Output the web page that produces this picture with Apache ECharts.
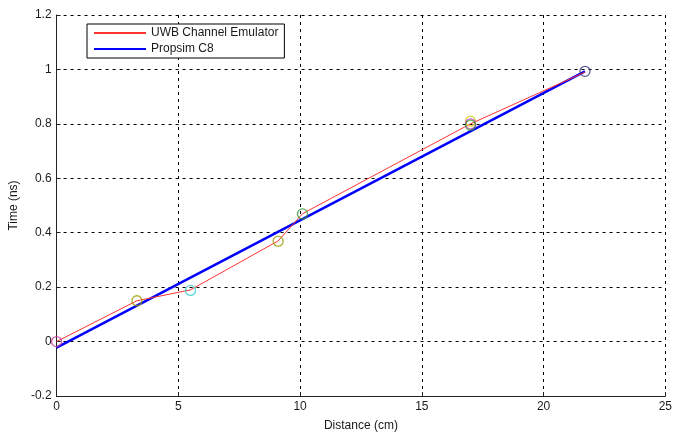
<!DOCTYPE html>
<html><head><meta charset="utf-8">
<script src="https://cdn.jsdelivr.net/npm/echarts@6/dist/echarts.min.js"></script>
<style>html,body{margin:0;padding:0;background:#fff}#c{width:675px;height:437px}</style>
</head><body><div id="c"></div>
<script>
const xTicks = [0, 5, 10, 15, 20, 25];
const yTicks = [-0.2, 0, 0.2, 0.4, 0.6, 0.8, 1, 1.2];
const uwbX = [0, 3.3, 5.5, 9.1, 10.1, 17.0, 21.7];
const uwbY = [0, 0.15, 0.19, 0.37, 0.47, 0.80, 0.99];
const propX = [0, 21.7];
const propY = [-0.022, 0.993];
const markX = [0, 3.3, 5.5, 9.1, 10.1, 17.0, 17.0, 17.0, 21.7];
const markY = [0, 0.15, 0.188, 0.369, 0.469, 0.81, 0.80, 0.795, 0.993];
const markColors = ['#cc3399', '#999900', '#33cccc', '#999900', '#339933', '#cccc00', '#cc33cc', '#339933', '#333377'];

const chart = echarts.init(document.getElementById('c'));
const font = 'Liberation Sans, Arial, sans-serif';
const tc = '#1a1a1a';
const tick = {show: true, inside: true, length: 4, lineStyle: {color: '#222'}};
chart.setOption({
  animation: false,
  grid: {left: 54, right: 4, top: 15, bottom: 40, show: false},
  legend: {
    left: 87, top: 24, orient: 'vertical', itemGap: 4, itemWidth: 52, itemHeight: 10,
    padding: [3, 6, 3, 6],
    borderColor: '#000', borderWidth: 1, backgroundColor: '#fff', borderRadius: 0,
    itemStyle: {opacity: 0},
    textStyle: {fontFamily: font, fontSize: 12, color: tc},
    data: ['UWB Channel Emulator', 'Propsim C8']
  },
  xAxis: {
    type: 'value', min: 0, max: 25, interval: 5,
    name: 'Distance (cm)', nameLocation: 'middle', nameGap: 24,
    nameTextStyle: {fontFamily: font, fontSize: 12, color: tc},
    axisLine: {show: true, onZero: false, lineStyle: {color: '#222'}},
    axisTick: tick,
    axisLabel: {fontFamily: font, fontSize: 12, color: tc, margin: 5,
      formatter: v => xTicks.includes(v) ? String(v) : ''},
    splitLine: {show: true, lineStyle: {color: '#000', type: [3, 4], width: 1}}
  },
  yAxis: {
    type: 'value', min: -0.2, max: 1.2, interval: 0.2,
    name: 'Time (ns)', nameLocation: 'middle', nameGap: 30,
    nameTextStyle: {fontFamily: font, fontSize: 12, color: tc},
    axisLine: {show: true, onZero: false, lineStyle: {color: '#222'}},
    axisTick: tick,
    axisLabel: {fontFamily: font, fontSize: 12, color: tc, margin: 5,
      formatter: v => { const r = Math.round(v * 10) / 10; return yTicks.includes(r) ? String(r) : ''; }},
    splitLine: {show: true, lineStyle: {color: '#000', type: [3, 4], width: 1}}
  },
  series: [
    {name: 'UWB Channel Emulator', type: 'line', symbol: 'none',
     lineStyle: {color: '#ff3333', width: 1}, itemStyle: {color: '#ff3333'},
     data: uwbX.map((x, i) => [x, uwbY[i]]), z: 3},
    {name: 'Propsim C8', type: 'line', symbol: 'none',
     lineStyle: {color: '#0000ff', width: 2.5}, itemStyle: {color: '#0000ff'},
     data: propX.map((x, i) => [x, propY[i]]), z: 2},
    {name: 'markers', type: 'scatter', symbol: 'circle', symbolSize: 10, z: 4,
     data: markX.map((x, i) => ({value: [x, markY[i]],
       itemStyle: {color: 'rgba(0,0,0,0)', borderColor: markColors[i], borderWidth: 1.3}}))}
  ]
});
</script></body></html>
